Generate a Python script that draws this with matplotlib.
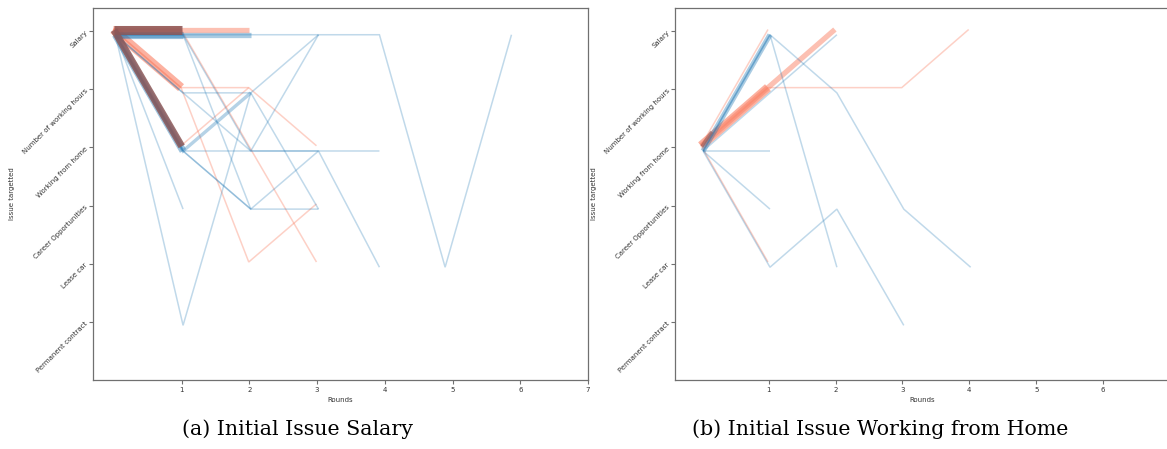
import matplotlib.pyplot as plt

# ── issue levels (y positions) ───────────────────────────────────────────────
ISSUES = ["Permanent contract", "Lease car", "Career Opportunities",
          "Working from home", "Number of working hours", "Salary"]
PER, LEA, CAR, WFH, HRS, SAL = 1, 2, 3, 4, 5, 6
ROUND_TICKS_A = [1, 2, 3, 4, 5, 6, 7]
ROUND_TICKS_B = [1, 2, 3, 4, 5, 6]

# each path: (number of negotiations, rounds, issues)
salary_blue = [
    (3, [0, 1, 2], [SAL, SAL, SAL]),
    (4, [0, 1], [SAL, SAL]),
    (4, [0, 1], [SAL, WFH]),
    (2, [0, 1, 2], [SAL, WFH, HRS]),
    (1, [0, 1, 2, 3, 3.9, 4.87, 5.85], [SAL, SAL, SAL, SAL, SAL, LEA, SAL]),
    (1, [0, 1, 2, 3], [SAL, WFH, CAR, CAR]),
    (1, [0, 1, 2, 3, 3.9], [SAL, WFH, WFH, WFH, WFH]),
    (1, [0, 1, 2, 3, 3.9], [SAL, WFH, CAR, WFH, LEA]),
    (1, [0, 1, 2, 3], [SAL, HRS, WFH, WFH]),
    (1, [0, 1, 2, 3], [SAL, HRS, HRS, CAR]),
    (1, [0, 1, 2, 3], [SAL, SAL, WFH, SAL]),
    (1, [0, 1, 2], [SAL, SAL, CAR]),
    (1, [0, 1], [SAL, CAR]),
    (1, [0, 1, 2, 3], [SAL, PER, HRS, SAL]),
]
salary_red = [
    (3, [0, 1, 2], [SAL, SAL, SAL]),
    (5, [0, 1], [SAL, SAL]),
    (5, [0, 1], [SAL, HRS]),
    (1, [0, 1, 2, 3], [SAL, HRS, HRS, WFH]),
    (1, [0, 1, 2, 3], [SAL, HRS, LEA, CAR]),
    (1, [0, 1, 2, 3], [SAL, SAL, WFH, LEA]),
    (1, [0, 1, 2], [SAL, WFH, HRS]),
]
salary_brown = [
    (5, [0, 1], [SAL, SAL]),
    (4, [0, 1], [SAL, WFH]),
]

home_blue = [
    (3, [0, 1], [WFH, SAL]),
    (1, [0, 1, 2], [WFH, HRS, SAL]),
    (1, [0, 1, 2, 3, 4], [WFH, SAL, HRS, CAR, LEA]),
    (1, [0, 1, 2], [WFH, SAL, LEA]),
    (1, [0, 1], [WFH, WFH]),
    (1, [0, 1], [WFH, CAR]),
    (1, [0, 1, 2, 3], [WFH, LEA, CAR, PER]),
]
home_red = [
    (5, [0, 1], [WFH, HRS]),
    (3, [0, 1, 2], [WFH, HRS, SAL]),
    (1, [0, 1, 2, 3, 4], [WFH, HRS, HRS, HRS, SAL]),
    (1, [0, 1], [WFH, SAL]),
    (1, [0, 1], [WFH, LEA]),
]
home_brown = [
    (2, [0, 0.15], [WFH, WFH + 0.25]),
]

# ── style ────────────────────────────────────────────────────────────────────
STYLE = {
    "blue":  dict(color="#1f77b4", dx=0.02, dy=-0.06, z=2),
    "red":   dict(color="#fa7a5c", dx=-0.01, dy=0.03, z=1),
    "brown": dict(color="#8c5858", dx=0.0, dy=0.02, z=3),
}
SPINE = "#707070"

W, H = 1167, 449
fig = plt.figure(figsize=(W / 100, H / 100), dpi=100)


def draw_paths(ax, paths, kind, alpha=None):
    st = STYLE[kind]
    for n, rounds, issues in paths:
        xs = [r + st["dx"] for r in rounds]
        ys = [i + st["dy"] for i in issues]
        lw = 1.1 + 1.35 * (n - 1)
        if alpha is not None:
            a = alpha
        elif kind == "brown":
            a = 0.85
        elif kind == "blue":
            a = min(0.28 + 0.05 * (n - 1), 0.45)
        else:
            a = min(0.35 + 0.06 * (n - 1), 0.58)
        ax.plot(xs, ys, color=st["color"], lw=lw, alpha=a,
                solid_capstyle="butt", solid_joinstyle="miter", zorder=st["z"])


def setup(ax, xmin, xticks):
    ax.set_xlim(xmin, 7)
    ax.set_ylim(0, 6.4)
    ax.set_xticks(xticks)
    ax.set_yticks(range(1, 7))
    ax.set_yticklabels(ISSUES)
    ax.tick_params(labelsize=5, length=3, width=0.8, color=SPINE, pad=2,
                   labelcolor="#333333")
    plt.setp(ax.get_yticklabels(), rotation=45, ha="right", rotation_mode="anchor")
    for s in ax.spines.values():
        s.set_color(SPINE)
        s.set_linewidth(0.9)
    ax.set_xlabel("Rounds", fontsize=5, labelpad=3, color="#333333")
    ax.set_ylabel("Issue targetted", fontsize=5, color="#333333")
    ax.yaxis.set_label_coords(-78 / 495, 0.5)


ax1 = fig.add_axes([93 / W, 1 - 380 / H, 495 / W, 372 / H])
draw_paths(ax1, salary_red, "red")
draw_paths(ax1, salary_blue, "blue")
draw_paths(ax1, salary_brown, "brown")
setup(ax1, -0.31, ROUND_TICKS_A)

ax2 = fig.add_axes([675 / W, 1 - 380 / H, 495 / W, 372 / H])
draw_paths(ax2, home_red, "red")
draw_paths(ax2, home_blue, "blue")
draw_paths(ax2, home_brown, "brown", alpha=0.55)
setup(ax2, -0.40, ROUND_TICKS_B)

cap = dict(ha="center", va="center", fontsize=14.8, family="DejaVu Serif")
fig.text(298 / W, 1 - 429 / H, "(a) Initial Issue Salary", **cap)
fig.text(880 / W, 1 - 429 / H, "(b) Initial Issue Working from Home", **cap)

fig.savefig("out.png", dpi=100)
